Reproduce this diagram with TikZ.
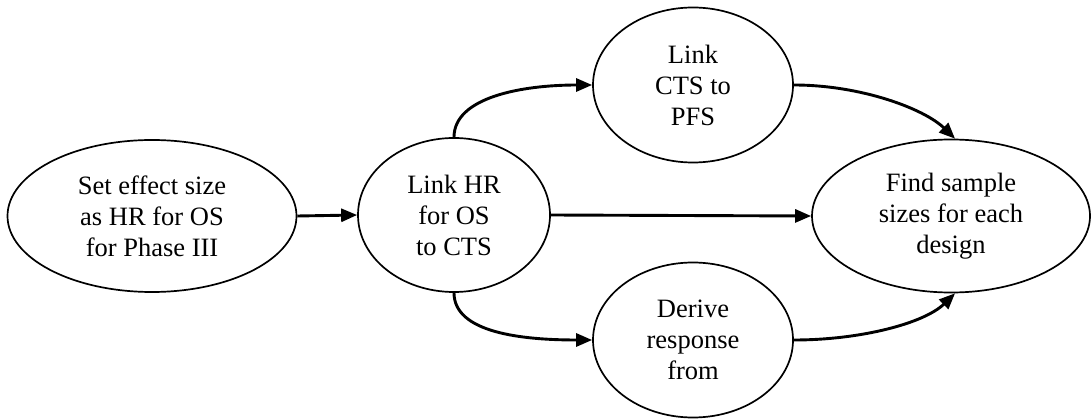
\documentclass[tikz,border=0pt]{standalone}
\usepackage{fontspec}
\setmainfont{Liberation Serif}
\usetikzlibrary{shapes.geometric,arrows.meta}
\begin{document}
\begin{tikzpicture}[x=1pt,y=-1pt,
  stage/.style={ellipse, draw, line width=1.7pt, inner sep=0pt, align=center,
    font=\fontsize{26.5}{31}\selectfont},
  flow/.style={line width=2.9pt, -{Triangle[length=16pt,width=13pt]}}]
\useasboundingbox (0,0) rectangle (1091,419);
\node[stage, minimum width=289pt, minimum height=152pt] (e1) at (152,216) {Set effect size\\as HR for OS\\for Phase III};
\node[stage, minimum width=192pt, minimum height=154pt] (e2) at (454,215) {Link HR\\for OS\\to CTS};
\node[stage, minimum width=200pt, minimum height=155pt] (e3) at (693,85) {Link\\CTS to\\PFS};
\node[stage, minimum width=200pt, minimum height=155pt] (e4) at (693,340) {Derive\\response\\from};
\node[stage, minimum width=278pt, minimum height=153pt] (e5) at (951,216) {Find sample\\sizes for each\\design};
\draw[flow] (e1.east) -- (e2.west);
\draw[flow] (e2.east) -- (e5.west);
\draw[flow] (e2.north) .. controls +(0,-40) and +(-70,0) .. (e3.west);
\draw[flow] (e2.south) .. controls +(0,40) and +(-70,0) .. (e4.west);
\draw[flow] (e3.east) .. controls +(67,0) and +(-31,-30) .. (e5.87);
\draw[flow] (e4.east) .. controls +(67,0) and +(-31,30) .. (e5.273);
\end{tikzpicture}
\end{document}
